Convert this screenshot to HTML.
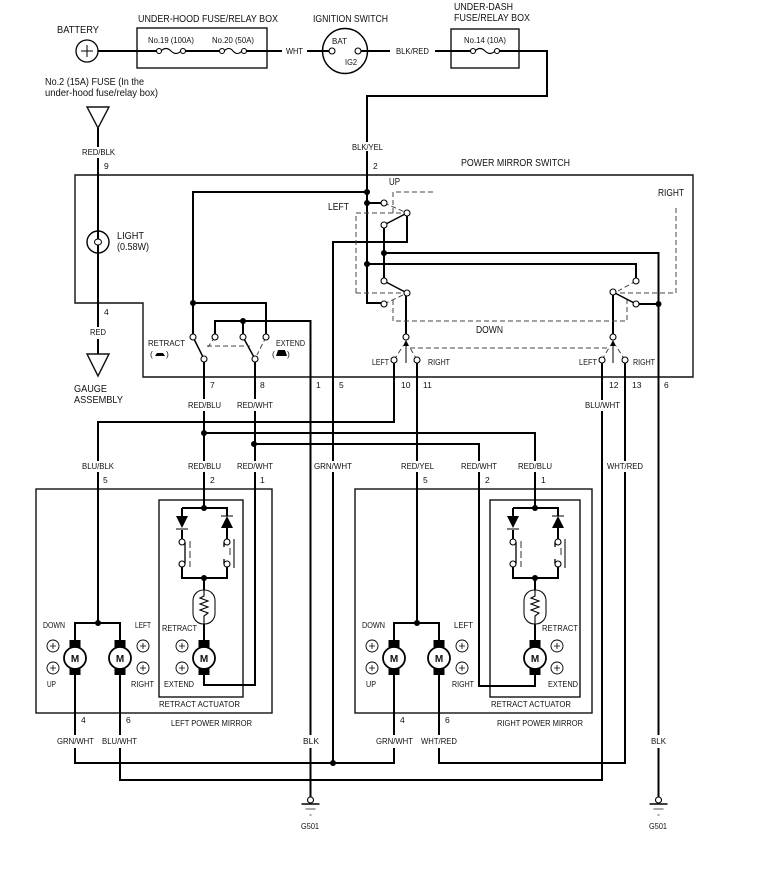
<!DOCTYPE html>
<html><head><meta charset="utf-8"><title>Power Mirror Circuit</title>
<style>
html,body{margin:0;padding:0;background:#fff}
svg{display:block}
text{font-family:"Liberation Sans",sans-serif;font-size:8.5px;fill:#111}
.w{fill:none;stroke:#000;stroke-width:2}
.b{fill:none;stroke:#111;stroke-width:1.4}
.d{fill:none;stroke:#444;stroke-width:1;stroke-dasharray:5 3}
.t{fill:#fff;stroke:#000;stroke-width:1.1}
.s{font-size:8.5px}
.l{font-size:10px}
.m{font-size:10px;font-weight:bold;text-anchor:middle}
</style></head><body>
<svg width="765" height="879" viewBox="0 0 765 879" xmlns="http://www.w3.org/2000/svg">
<defs>
<g id="mot">
<rect x="-5.500" y="-18" width="11" height="35" fill="#000"/>
<circle r="11" fill="#fff" stroke="#000" stroke-width="1.800"/>
</g>
<g id="pl">
<circle r="6" fill="#fff" stroke="#000" stroke-width="0.900"/>
<path d="M-3 0H3M0-3V3" stroke="#000" stroke-width="0.800"/>
</g>
<g id="act">
<path class="w" d="M204 500V508M182 530V542M182 508H227V516M182 508V516M227 528V542M182 564V578H227V564M204 578V590M204 624V640"/>
<path d="M176 516H188L182 528Z M221 528H233L227 516Z" fill="#000"/>
<path d="M176 529H188M221 516H233" stroke="#000" stroke-width="1"/>
<path d="M185 542V564M224 542V547M224 559V564" stroke="#000" stroke-width="1.300"/>
<path d="M190 541V567M230 548V556" stroke="#333" stroke-width="1" stroke-dasharray="7 3" fill="none"/>
<path d="M234 539V568" stroke="#222" stroke-width="1.200"/>
<circle class="t" cx="182" cy="542" r="3"/><circle class="t" cx="182" cy="564" r="3"/>
<circle class="t" cx="227" cy="542" r="3"/><circle class="t" cx="227" cy="564" r="3"/>
<circle cx="204" cy="508" r="3"/><circle cx="204" cy="578" r="3"/>
<rect x="193" y="590" width="22" height="34" rx="10.500" fill="#fff" stroke="#111" stroke-width="1.100"/>
<path d="M204 590V596L200 598L208 601L200 604L208 607L200 610L208 613L204 616V624" fill="none" stroke="#000" stroke-width="1.100"/>
<use href="#mot" x="204" y="658"/>
</g>
<g id="gnd">
<path class="w" d="M0-3V-50"/>
<circle r="3" cy="0" class="t"/>
<path d="M-9 4H9" stroke="#000" stroke-width="1.500"/>
<path d="M-5 9H5" stroke="#555" stroke-width="1"/>
<path d="M-1 15H1" stroke="#555" stroke-width="1"/>
</g>
</defs>

<!-- boxes -->
<path class="b" d="M75 175H693V377H143V303H75Z"/>
<rect class="b" x="137" y="28" width="130" height="40"/>
<rect class="b" x="451" y="29" width="68" height="39"/>
<rect class="b" x="36" y="489" width="236" height="224"/>
<rect class="b" x="159" y="500" width="84" height="197"/>
<rect class="b" x="355" y="489" width="237" height="224"/>
<rect class="b" x="490" y="500" width="90" height="197"/>

<!-- battery / top wires -->
<path class="w" d="M98 51H159M183 51H222M244 51H282M307 51H332M358 51H390M435 51H473M497 51H547V96H367V142M367 151V303H384"/>
<circle cx="87" cy="51" r="11" fill="#fff" stroke="#000" stroke-width="1.300"/>
<path d="M81 51H93M87 45V57" stroke="#000" stroke-width="1"/>
<path d="M161 51Q166 46 171 51T181 51M224 51Q229 46 233 51T242 51M475 51Q480 46 485 51T495 51" fill="none" stroke="#000" stroke-width="1.100"/>
<circle class="t" cx="159" cy="51" r="2.500"/><circle class="t" cx="183" cy="51" r="2.500"/>
<circle class="t" cx="222" cy="51" r="2.500"/><circle class="t" cx="244" cy="51" r="2.500"/>
<circle class="t" cx="473" cy="51" r="2.500"/><circle class="t" cx="497" cy="51" r="2.500"/>
<circle cx="345" cy="51" r="22.500" fill="none" stroke="#000" stroke-width="1.400"/>
<circle class="t" cx="332" cy="51" r="3"/><circle class="t" cx="358" cy="51" r="3"/>

<!-- light circuit -->
<path class="b" d="M87 107H109L98 128Z"/>
<path class="w" d="M98 128V147M98 158V327M98 339V354"/>
<circle cx="98" cy="242" r="11" fill="none" stroke="#000" stroke-width="1.400"/>
<ellipse cx="98" cy="242" rx="3.500" ry="3" fill="#fff" stroke="#000" stroke-width="1"/>
<path class="b" d="M87 354H109L98 376Z"/>

<!-- retract/extend switch -->
<path class="w" d="M367 192H193V337M193 303H266V337M215 337V321H310.500V735M243 321V337M310.500 748V797"/>
<circle cx="193" cy="303" r="3"/><circle cx="243" cy="321" r="3"/>
<path d="M193 337L204 359M243 337L255 359" stroke="#000" stroke-width="1.500"/>
<path class="d" d="M207 346H250M215 337L208 347M266 337L257 355"/>
<circle class="t" cx="193" cy="337" r="3"/><circle class="t" cx="215" cy="337" r="3"/>
<circle class="t" cx="243" cy="337" r="3"/><circle class="t" cx="266" cy="337" r="3"/>
<circle class="t" cx="204" cy="359" r="3"/><circle class="t" cx="255" cy="359" r="3"/>

<!-- mirror switch wiring -->
<path class="w" d="M367 203H384M367 264H636V281M333 461V242H407V213M384 225V281M384 253H658.500V735M658.500 748V797M636 304H658.500"/>
<path d="M407 213L384 225M384 281L407 293M636 304L613 292" stroke="#000" stroke-width="1.500"/>
<path class="w" d="M406 293V337M613 292V337"/>
<circle cx="367" cy="192" r="3"/><circle cx="367" cy="203" r="3"/><circle cx="367" cy="264" r="3"/>
<circle cx="384" cy="253" r="3"/><circle cx="658.500" cy="304" r="3"/>
<path class="d" d="M393 213V192H435M356 293V213H407M356 293H407M393 300V321H627V300M620 293H676V205M384 203L405 212M384 304L405 294M636 281L618 291M410 348H610M394 360L403 346M417 360L409 346M602 360L610 346M625 360L616 346"/>
<path d="M406 363V343" stroke="#000" stroke-width="1"/><path d="M403 346L406 340L409 346Z" fill="#000"/>
<path d="M613 363V343" stroke="#000" stroke-width="1"/><path d="M610 346L613 340L616 346Z" fill="#000"/>
<circle class="t" cx="384" cy="203" r="3"/><circle class="t" cx="407" cy="213" r="3"/><circle class="t" cx="384" cy="225" r="3"/>
<circle class="t" cx="384" cy="281" r="3"/><circle class="t" cx="407" cy="293" r="3"/><circle class="t" cx="384" cy="304" r="3"/>
<circle class="t" cx="636" cy="281" r="3"/><circle class="t" cx="613" cy="292" r="3"/><circle class="t" cx="636" cy="304" r="3"/>
<circle class="t" cx="406" cy="337" r="3"/><circle class="t" cx="613" cy="337" r="3"/>

<!-- harness wires -->
<path class="w" d="M394 363V422H98V461M98 472V623M75 640V623H120V640M204 362V399M204 411V461M204 472V500M255 362V399M255 411V461M255 472V685H204V675"/>
<path class="w" d="M204 433H535V461M535 472V500M254 444H479V461M479 472V686H535V675M417 363V461M417 472V623M394 640V623H439V640"/>
<path class="w" d="M602 363V400M602 411V780H120V748M120 735V675M625 363V461M625 472V763H439V748M439 735V675M394 675V735M394 748V763H75V748M75 735V675M333 472V763"/>
<circle cx="204" cy="433" r="3"/><circle cx="254" cy="444" r="3"/>
<circle cx="98" cy="623" r="3"/><circle cx="417" cy="623" r="3"/><circle cx="333" cy="763" r="3"/>
<circle class="t" cx="394" cy="360" r="3"/><circle class="t" cx="417" cy="360" r="3"/>
<circle class="t" cx="602" cy="360" r="3"/><circle class="t" cx="625" cy="360" r="3"/>

<!-- mirrors -->
<use href="#act"/>
<use href="#act" transform="translate(331 0)"/>
<use href="#mot" x="75" y="658"/><use href="#mot" x="120" y="658"/>
<use href="#mot" x="394" y="658"/><use href="#mot" x="439" y="658"/>
<use href="#pl" x="53" y="646"/><use href="#pl" x="53" y="668"/>
<use href="#pl" x="143" y="646"/><use href="#pl" x="143" y="668"/>
<use href="#pl" x="182" y="646"/><use href="#pl" x="182" y="668"/>
<use href="#pl" x="372" y="646"/><use href="#pl" x="372" y="668"/>
<use href="#pl" x="462" y="646"/><use href="#pl" x="462" y="668"/>
<use href="#pl" x="557" y="646"/><use href="#pl" x="557" y="668"/>
<text class="m" x="75" y="662">M</text><text class="m" x="120" y="662">M</text><text class="m" x="204" y="662">M</text>
<text class="m" x="394" y="662">M</text><text class="m" x="439" y="662">M</text><text class="m" x="535" y="662">M</text>

<!-- ground -->
<use href="#gnd" x="310.500" y="800"/>
<use href="#gnd" x="658.500" y="800"/>

<!-- retract/extend symbols -->
<path d="M155 356L157 353H163L165 356Z M276 356L278 350H285L287 356Z" fill="#000"/>
<text x="150" y="357">(</text><text x="166" y="357">)</text>
<text x="272" y="357">(</text><text x="287" y="357">)</text>

<!-- labels -->
<g>
<text class="l" x="57" y="33" textLength="42" lengthAdjust="spacingAndGlyphs">BATTERY</text>
<text class="l" x="138" y="22" textLength="140" lengthAdjust="spacingAndGlyphs">UNDER-HOOD FUSE/RELAY BOX</text>
<text class="l" x="313" y="22" textLength="75" lengthAdjust="spacingAndGlyphs">IGNITION SWITCH</text>
<text class="l" x="454" y="10" textLength="59" lengthAdjust="spacingAndGlyphs">UNDER-DASH</text>
<text class="l" x="454" y="21" textLength="76" lengthAdjust="spacingAndGlyphs">FUSE/RELAY BOX</text>
<text class="s" x="148" y="43" textLength="46" lengthAdjust="spacingAndGlyphs">No.19 (100A)</text>
<text class="s" x="212" y="43" textLength="42" lengthAdjust="spacingAndGlyphs">No.20 (50A)</text>
<text class="s" x="464" y="43" textLength="42" lengthAdjust="spacingAndGlyphs">No.14 (10A)</text>
<text class="s" x="286" y="54" textLength="17" lengthAdjust="spacingAndGlyphs">WHT</text>
<text class="s" x="332" y="44" textLength="15" lengthAdjust="spacingAndGlyphs">BAT</text>
<text class="s" x="345" y="65" textLength="12" lengthAdjust="spacingAndGlyphs">IG2</text>
<text class="s" x="396" y="54" textLength="33" lengthAdjust="spacingAndGlyphs">BLK/RED</text>
<text class="l" x="45" y="85" textLength="99" lengthAdjust="spacingAndGlyphs">No.2 (15A) FUSE (In the</text>
<text class="l" x="45" y="96" textLength="113" lengthAdjust="spacingAndGlyphs">under-hood fuse/relay box)</text>
<text class="s" x="82" y="155" textLength="33" lengthAdjust="spacingAndGlyphs">RED/BLK</text>
<text class="s" x="104" y="169">9</text>
<text class="s" x="352" y="150" textLength="31" lengthAdjust="spacingAndGlyphs">BLK/YEL</text>
<text class="s" x="373" y="169">2</text>
<text class="l" x="461" y="166" textLength="109" lengthAdjust="spacingAndGlyphs">POWER MIRROR SWITCH</text>
<text class="l" x="389" y="185" textLength="11" lengthAdjust="spacingAndGlyphs">UP</text>
<text class="l" x="328" y="210" textLength="21" lengthAdjust="spacingAndGlyphs">LEFT</text>
<text class="l" x="658" y="196" textLength="26" lengthAdjust="spacingAndGlyphs">RIGHT</text>
<text class="l" x="117" y="239" textLength="27" lengthAdjust="spacingAndGlyphs">LIGHT</text>
<text class="l" x="117" y="250" textLength="32" lengthAdjust="spacingAndGlyphs">(0.58W)</text>
<text class="s" x="104" y="315">4</text>
<text class="s" x="90" y="335" textLength="16" lengthAdjust="spacingAndGlyphs">RED</text>
<text class="l" x="74" y="392" textLength="33" lengthAdjust="spacingAndGlyphs">GAUGE</text>
<text class="l" x="74" y="403" textLength="49" lengthAdjust="spacingAndGlyphs">ASSEMBLY</text>
<text class="s" x="148" y="346" textLength="37" lengthAdjust="spacingAndGlyphs">RETRACT</text>
<text class="s" x="276" y="346" textLength="29" lengthAdjust="spacingAndGlyphs">EXTEND</text>
<text class="s" x="210" y="388">7</text><text class="s" x="260" y="388">8</text>
<text class="s" x="316" y="388">1</text><text class="s" x="339" y="388">5</text>
<text class="s" x="401" y="388">10</text><text class="s" x="423" y="388">11</text>
<text class="s" x="609" y="388">12</text><text class="s" x="632" y="388">13</text>
<text class="s" x="664" y="388">6</text>
<text class="l" x="476" y="333" textLength="27" lengthAdjust="spacingAndGlyphs">DOWN</text>
<text class="s" x="372" y="365" textLength="17" lengthAdjust="spacingAndGlyphs">LEFT</text>
<text class="s" x="428" y="365" textLength="22" lengthAdjust="spacingAndGlyphs">RIGHT</text>
<text class="s" x="579" y="365" textLength="18" lengthAdjust="spacingAndGlyphs">LEFT</text>
<text class="s" x="633" y="365" textLength="22" lengthAdjust="spacingAndGlyphs">RIGHT</text>
<text class="s" x="188" y="408" textLength="33" lengthAdjust="spacingAndGlyphs">RED/BLU</text>
<text class="s" x="237" y="408" textLength="36" lengthAdjust="spacingAndGlyphs">RED/WHT</text>
<text class="s" x="585" y="408" textLength="35" lengthAdjust="spacingAndGlyphs">BLU/WHT</text>
<text class="s" x="82" y="469" textLength="32" lengthAdjust="spacingAndGlyphs">BLU/BLK</text>
<text class="s" x="188" y="469" textLength="33" lengthAdjust="spacingAndGlyphs">RED/BLU</text>
<text class="s" x="237" y="469" textLength="36" lengthAdjust="spacingAndGlyphs">RED/WHT</text>
<text class="s" x="314" y="469" textLength="38" lengthAdjust="spacingAndGlyphs">GRN/WHT</text>
<text class="s" x="401" y="469" textLength="33" lengthAdjust="spacingAndGlyphs">RED/YEL</text>
<text class="s" x="461" y="469" textLength="36" lengthAdjust="spacingAndGlyphs">RED/WHT</text>
<text class="s" x="518" y="469" textLength="34" lengthAdjust="spacingAndGlyphs">RED/BLU</text>
<text class="s" x="607" y="469" textLength="36" lengthAdjust="spacingAndGlyphs">WHT/RED</text>
<text class="s" x="103" y="483">5</text><text class="s" x="210" y="483">2</text><text class="s" x="260" y="483">1</text>
<text class="s" x="423" y="483">5</text><text class="s" x="485" y="483">2</text><text class="s" x="541" y="483">1</text>
<text class="s" x="43" y="628" textLength="22" lengthAdjust="spacingAndGlyphs">DOWN</text>
<text class="s" x="135" y="628" textLength="16" lengthAdjust="spacingAndGlyphs">LEFT</text>
<text class="s" x="47" y="687" textLength="9" lengthAdjust="spacingAndGlyphs">UP</text>
<text class="s" x="131" y="687" textLength="23" lengthAdjust="spacingAndGlyphs">RIGHT</text>
<text class="s" x="162" y="631" textLength="35" lengthAdjust="spacingAndGlyphs">RETRACT</text>
<text class="s" x="164" y="687" textLength="30" lengthAdjust="spacingAndGlyphs">EXTEND</text>
<text class="s" x="159" y="707" textLength="81" lengthAdjust="spacingAndGlyphs">RETRACT ACTUATOR</text>
<text class="s" x="171" y="726" textLength="81" lengthAdjust="spacingAndGlyphs">LEFT POWER MIRROR</text>
<text class="s" x="81" y="723">4</text><text class="s" x="126" y="723">6</text>
<text class="s" x="362" y="628" textLength="23" lengthAdjust="spacingAndGlyphs">DOWN</text>
<text class="s" x="454" y="628" textLength="19" lengthAdjust="spacingAndGlyphs">LEFT</text>
<text class="s" x="366" y="687" textLength="10" lengthAdjust="spacingAndGlyphs">UP</text>
<text class="s" x="452" y="687" textLength="22" lengthAdjust="spacingAndGlyphs">RIGHT</text>
<text class="s" x="542" y="631" textLength="36" lengthAdjust="spacingAndGlyphs">RETRACT</text>
<text class="s" x="548" y="687" textLength="30" lengthAdjust="spacingAndGlyphs">EXTEND</text>
<text class="s" x="491" y="707" textLength="80" lengthAdjust="spacingAndGlyphs">RETRACT ACTUATOR</text>
<text class="s" x="497" y="726" textLength="86" lengthAdjust="spacingAndGlyphs">RIGHT POWER MIRROR</text>
<text class="s" x="400" y="723">4</text><text class="s" x="445" y="723">6</text>
<text class="s" x="57" y="744" textLength="37" lengthAdjust="spacingAndGlyphs">GRN/WHT</text>
<text class="s" x="102" y="744" textLength="35" lengthAdjust="spacingAndGlyphs">BLU/WHT</text>
<text class="s" x="303" y="744" textLength="16" lengthAdjust="spacingAndGlyphs">BLK</text>
<text class="s" x="376" y="744" textLength="37" lengthAdjust="spacingAndGlyphs">GRN/WHT</text>
<text class="s" x="421" y="744" textLength="36" lengthAdjust="spacingAndGlyphs">WHT/RED</text>
<text class="s" x="651" y="744" textLength="15" lengthAdjust="spacingAndGlyphs">BLK</text>
<text class="s" x="301" y="829" textLength="18" lengthAdjust="spacingAndGlyphs">G501</text>
<text class="s" x="649" y="829" textLength="18" lengthAdjust="spacingAndGlyphs">G501</text>
</g>
</svg>
</body></html>
